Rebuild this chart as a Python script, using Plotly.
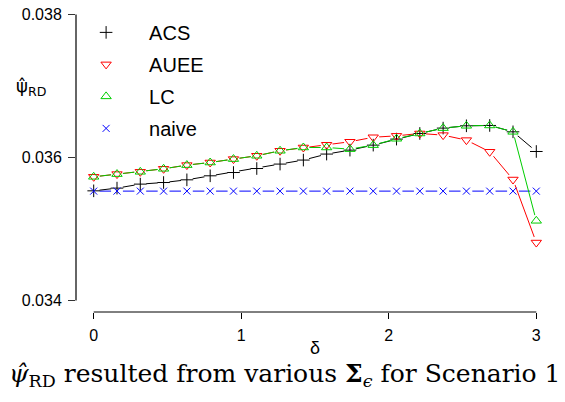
import plotly.graph_objects as go

# sensitivity parameter delta (20 equally spaced values on [0, 3])
delta = [0.0, 0.1579, 0.3158, 0.4737, 0.6316, 0.7895, 0.9474, 1.1053, 1.2632, 1.4211,
         1.5789, 1.7368, 1.8947, 2.0526, 2.2105, 2.3684, 2.5263, 2.6842, 2.8421, 3.0]

# estimated risk difference for each method
acs = [0.035534, 0.035572, 0.035628, 0.035650, 0.035688, 0.035744, 0.035790, 0.035846,
       0.035908, 0.035964, 0.036048, 0.036103, 0.036173, 0.036257, 0.036336, 0.036411,
       0.036443, 0.036448, 0.036359, 0.036084]
auee = [0.035730, 0.035768, 0.035800, 0.035842, 0.035894, 0.035930, 0.035978, 0.036024,
        0.036094, 0.036140, 0.036178, 0.036220, 0.036283, 0.036303, 0.036336, 0.036313,
        0.036243, 0.036080, 0.035692, 0.034811]
lc = [0.035730, 0.035768, 0.035800, 0.035842, 0.035894, 0.035930, 0.035978, 0.036024,
      0.036094, 0.036140, 0.036140, 0.036117, 0.036173, 0.036262, 0.036336, 0.036411,
      0.036443, 0.036448, 0.036359, 0.035115]
naive = [0.03553, 0.03553, 0.03553, 0.03553, 0.03553, 0.03553, 0.03553, 0.03553,
         0.03553, 0.03553, 0.03553, 0.03553, 0.03553, 0.03553, 0.03553, 0.03553,
         0.03553, 0.03553, 0.03553, 0.03553]

x_ticks = [0, 1, 2, 3]
y_ticks = [0.034, 0.036, 0.038]
y_ticklabels = ["0.034", "0.036", "0.038"]

# name, values, colour, marker symbol, marker size
series = [
    ("ACS", acs, "#000000", "cross-thin-open", 9),
    ("AUEE", auee, "#FF0000", "triangle-down-open", 9),
    ("LC", lc, "#00CD00", "triangle-up-open", 9),
    ("naive", naive, "#0000FF", "x-thin-open", 7),
]

SANS = "Liberation Sans, Arial, sans-serif"
SERIF = "DejaVu Serif, serif"

fig = go.Figure()

# lines, each followed by white discs so the line stops short of its points
draw_order = [series[3], series[0], series[1], series[2]]
for name, vals, col, sym, sz in draw_order:
    fig.add_trace(go.Scatter(x=delta, y=vals, mode="lines",
                             line=dict(color=col, width=1),
                             showlegend=False, hoverinfo="skip"))
    fig.add_trace(go.Scatter(x=delta, y=vals, mode="markers",
                             marker=dict(symbol="circle", size=12, color="white",
                                         line=dict(width=0)),
                             showlegend=False, hoverinfo="skip"))

# point symbols (these also make up the legend)
for name, vals, col, sym, sz in series:
    fig.add_trace(go.Scatter(x=delta, y=vals, mode="markers", name=name,
                             legendgroup=name,
                             marker=dict(symbol=sym, size=sz, color=col,
                                         line=dict(color=col, width=1))))

fig.update_layout(
    width=565, height=402,
    margin=dict(l=76, r=11, t=3, b=90),
    paper_bgcolor="white", plot_bgcolor="white",
    font=dict(family=SANS, color="black", size=16),
    xaxis=dict(range=[-0.12, 3.12], showgrid=False, zeroline=False, showline=False,
               tickmode="array", tickvals=x_ticks, ticks="outside", ticklen=6,
               tickcolor="black", tickwidth=1, ticklabelstandoff=3,
               tickfont=dict(size=16, family=SANS)),
    yaxis=dict(range=[0.03384, 0.03816], showgrid=False, zeroline=False, showline=False,
               tickmode="array", tickvals=y_ticks, ticktext=y_ticklabels,
               ticks="outside", ticklen=7, tickcolor="#333333", tickwidth=1,
               ticklabelstandoff=3, tickfont=dict(size=16, family=SANS)),
    legend=dict(x=-0.027, y=0.968, xanchor="left", yanchor="top",
                bgcolor="rgba(0,0,0,0)", font=dict(size=20, family=SANS),
                itemwidth=76, traceorder="grouped", tracegroupgap=3),
    showlegend=True,
)

# axis lines spanning only the tick range
fig.add_shape(type="line", xref="x", yref="paper", x0=x_ticks[0], x1=x_ticks[-1],
              y0=0, y1=0, line=dict(color="black", width=1))
fig.add_shape(type="line", xref="paper", yref="y", x0=0, x1=0,
              y0=y_ticks[0], y1=y_ticks[-1], line=dict(color="#666666", width=2))

# x-axis title
fig.add_annotation(text="δ", xref="paper", yref="paper", x=0.5, y=-0.1165,
                   showarrow=False, font=dict(size=18, family=SANS),
                   xanchor="center", yanchor="middle")

# y-axis title: psi-hat with subscript RD
fig.add_annotation(text="ψ\u0302<sub>RD</sub>", xref="paper", yref="paper",
                   x=-0.094, y=0.728, showarrow=False,
                   font=dict(size=18, family="DejaVu Sans, sans-serif"),
                   xanchor="center", yanchor="middle")

# caption below the plot
fig.add_annotation(text="<i>ψ\u0302</i><sub>RD</sub> resulted from various "
                        "<b>Σ</b><sub><i>ϵ</i></sub> for Scenario 1",
                   xref="paper", yref="paper", x=0.438, y=-0.204, showarrow=False,
                   font=dict(size=25, family=SERIF), xanchor="center", yanchor="middle")

fig.write_html("out.html")
